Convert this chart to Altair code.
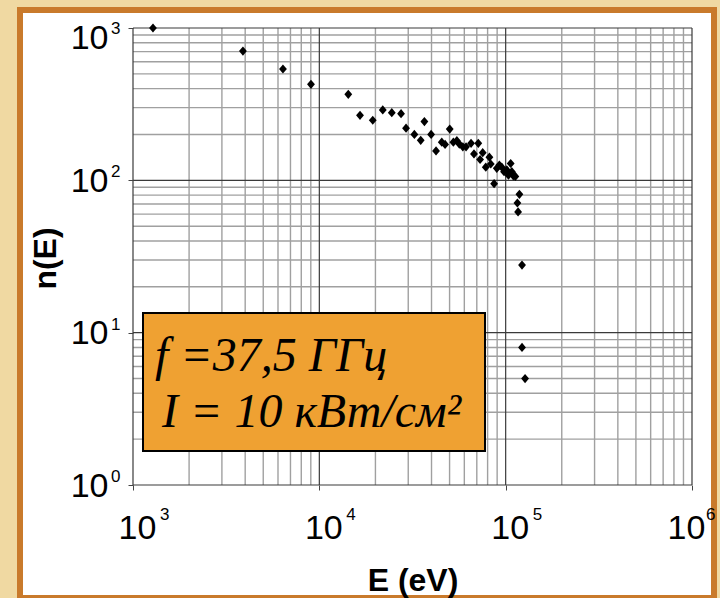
import altair as alt
import pandas as pd

# ---- data ----
energy_ev = [1280, 3890, 6380, 9020, 14300, 16530, 19350, 21900, 24480, 27450,
             29200, 32360, 35000, 36630, 39800, 42300, 45400, 47300, 50100, 52400,
             54700, 56400, 58900, 61300, 65200, 71300, 67600, 72900, 75300, 78200,
             81800, 83200, 86700, 89600, 92500, 95300, 98000, 101400, 103500, 106400,
             107900, 109900, 112700, 118500, 115600, 116600, 122400, 122400, 127100]
n_of_e = [1000, 706, 538, 427, 367, 267, 248, 290, 278, 274,
          220, 200, 183, 243, 200, 156, 178, 172, 217, 178,
          182, 173, 166, 166, 175, 175, 149, 137, 152, 122,
          142, 128, 95, 120, 126, 122, 114, 117, 108, 129,
          114, 107, 106, 81, 71, 62, 27.8, 8.0, 5.0]

x_decades = [1e3, 1e4, 1e5, 1e6]
x_exponents = ["3", "4", "5", "6"]
y_decades = [1, 10, 100, 1000]
y_exponents = ["0", "1", "2", "3"]
x_minor = [m * 10 ** k for k in (3, 4, 5) for m in range(2, 10)]
y_minor = [m * 10 ** k for k in (0, 1, 2) for m in range(2, 10)]

line1 = "f =37,5 ГГц"
line2 = "I = 10 кВт/см²"

W, H = 559, 457
SANS = "Liberation Sans, Arial"
LBL = 34
EXP = 17

pts = pd.DataFrame({"E": energy_ev, "n": n_of_e})
one = pd.DataFrame({"a": [0]})

xscale = alt.Scale(type="log", domain=[1e3, 1e6], nice=False)
yscale = alt.Scale(type="log", domain=[1, 1000], nice=False)

xaxis = alt.Axis(values=x_decades, labelExpr="'10'", labelFont=SANS, labelFontSize=LBL,
                 labelColor="black", labelBaseline="alphabetic", labelPadding=48,
                 labelOffset={"condition": {"test": "datum.value >= 1000000", "value": -6}, "value": 4},
                 labelFlush=False, labelOverlap=False,
                 tickSize=5, tickColor="#444", domain=False, grid=False,
                 title="E (eV)", titleFont=SANS, titleFontSize=32, titleFontWeight="bold",
                 titleColor="black", titleY=105, titleBaseline="alphabetic", zindex=1)
yaxis = alt.Axis(values=y_decades, labelExpr="'10'", labelFont=SANS, labelFontSize=LBL,
                 labelColor="black", labelBaseline="alphabetic",
                 labelOffset={"condition": {"test": "datum.value >= 1000", "value": 20}, "value": 11},
                 labelPadding=20, labelAlign="right", labelFlush=False, labelOverlap=False,
                 tickSize=5, tickColor="#444", domain=False, grid=False,
                 title="n(E)", titleFont=SANS, titleFontSize=32, titleFontWeight="bold",
                 titleColor="black", titleX=-78, titleY=230, titleBaseline="alphabetic",
                 zindex=1)

xenc = alt.X("E:Q", scale=xscale, axis=xaxis)
yenc = alt.Y("n:Q", scale=yscale, axis=yaxis)

panel = alt.Chart(one).mark_rect(fill="white", stroke="#C97A2B", strokeWidth=6).encode(
    x=alt.value(-113), x2=alt.value(581), y=alt.value(-18), y2=alt.value(570))

vminor = alt.Chart(pd.DataFrame({"E": x_minor})).mark_rule(color="#A0A0A0", strokeWidth=1.4).encode(x=xenc)
hminor = alt.Chart(pd.DataFrame({"n": y_minor})).mark_rule(color="#A0A0A0", strokeWidth=1.4).encode(y=yenc)
vmajor = alt.Chart(pd.DataFrame({"E": x_decades})).mark_rule(color="#3A3A3A", strokeWidth=1.2).encode(x=xenc)
hmajor = alt.Chart(pd.DataFrame({"n": y_decades})).mark_rule(color="#3A3A3A", strokeWidth=1.2).encode(y=yenc)

points = alt.Chart(pts).mark_point(
    shape="M0,-1L0.85,0L0,1L-0.85,0Z", filled=True, color="black", opacity=1, size=85
).encode(x=xenc, y=yenc)

xexp_df = pd.DataFrame({"E": x_decades, "t": x_exponents})
yexp_df = pd.DataFrame({"n": y_decades, "t": y_exponents})

xexp_a = alt.Chart(xexp_df).transform_filter("datum.E < 1000000").mark_text(
    font=SANS, fontSize=EXP, align="left", baseline="alphabetic", dx=27, color="black"
).encode(x=xenc, y=alt.value(H + 35), text="t:N")
xexp_b = alt.Chart(xexp_df).transform_filter("datum.E >= 1000000").mark_text(
    font=SANS, fontSize=EXP, align="left", baseline="alphabetic", dx=14, color="black"
).encode(x=xenc, y=alt.value(H + 35), text="t:N")
yexp_a = alt.Chart(yexp_df).transform_filter("datum.n < 1000").mark_text(
    font=SANS, fontSize=EXP, align="left", baseline="alphabetic", dy=-3, color="black"
).encode(y=yenc, x=alt.value(-22), text="t:N")
yexp_b = alt.Chart(yexp_df).transform_filter("datum.n >= 1000").mark_text(
    font=SANS, fontSize=EXP, align="left", baseline="alphabetic", dy=6, color="black"
).encode(y=yenc, x=alt.value(-22), text="t:N")

box = alt.Chart(one).mark_rect(fill="#EFA132", stroke="black", strokeWidth=2).encode(
    x=alt.value(10), x2=alt.value(352), y=alt.value(285), y2=alt.value(423))
t1 = alt.Chart(one).mark_text(font="Liberation Serif, Times New Roman", fontStyle="italic",
                              fontSize=48, align="left", baseline="alphabetic", color="black").encode(
    x=alt.value(22), y=alt.value(343), text=alt.value(line1))
t2 = alt.Chart(one).mark_text(font="Liberation Serif, Times New Roman", fontStyle="italic",
                              fontSize=48, align="left", baseline="alphabetic", color="black").encode(
    x=alt.value(29), y=alt.value(399), text=alt.value(line2))

chart = alt.layer(panel, vminor, hminor, vmajor, hmajor, points,
                  xexp_a, xexp_b, yexp_a, yexp_b, box, t1, t2).properties(
    width=W, height=H,
    padding={"left": 133, "top": 28, "right": 28, "bottom": 113},
    autosize=alt.AutoSizeParams(type="none"),
    background="#F0D9A2",
).configure_view(stroke=None)

chart.save("out.html", embed_options={"renderer": "svg", "actions": False})
